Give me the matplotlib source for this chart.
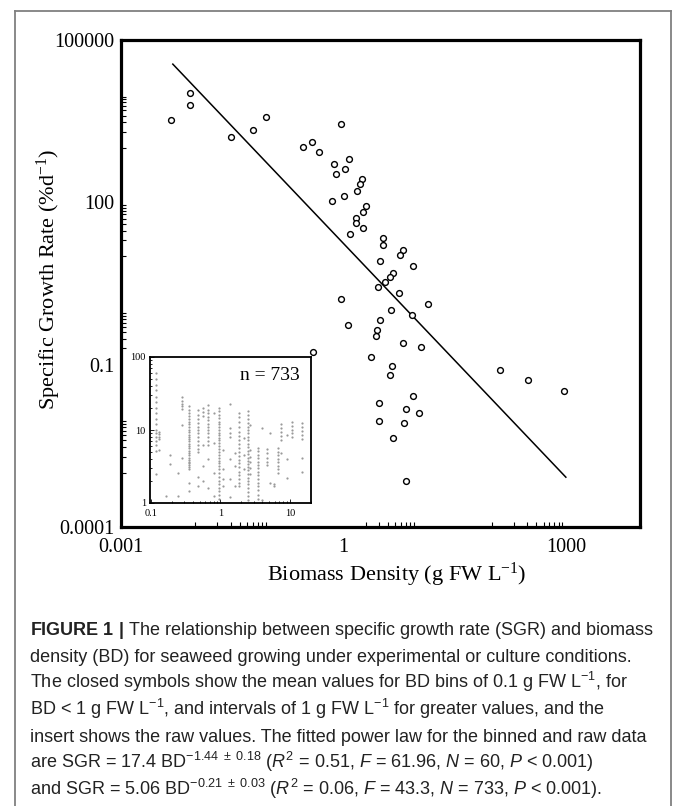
import matplotlib
matplotlib.use("Agg")
import matplotlib.pyplot as plt
import numpy as np

plt.rcParams['font.family'] = ['Liberation Serif', 'DejaVu Serif']
plt.rcParams['mathtext.fontset'] = 'custom'
plt.rcParams['mathtext.rm'] = 'Liberation Sans'
plt.rcParams['mathtext.it'] = 'Liberation Sans:italic'
plt.rcParams['mathtext.bf'] = 'Liberation Sans:bold'

# binned means (open circles)
bd_bin = [0.0047, 0.0086, 0.0086, 0.0309, 0.0604, 0.0895, 0.933, 0.284, 0.376, 0.462,
          0.736, 1.18, 0.80, 1.06, 1.77, 1.65, 1.51, 0.706, 1.01, 2.0,
          1.85, 1.46, 1.46, 1.85, 1.24, 3.47, 3.47, 6.34, 5.84, 3.09,
          8.7, 4.62, 4.27, 3.66, 2.97, 5.64, 0.933, 14.0, 4.4, 1.15,
          3.09, 8.3, 2.85, 2.73, 6.3, 11.0, 0.387, 2.32, 4.58, 4.22,
          3.06, 8.7, 7.06, 10.6, 3.06, 6.5, 4.62, 7.06, 129, 310, 937]
sgr_bin = [3320, 10350, 6300, 1610, 2140, 3820, 2800, 1040, 1300, 840,
           516, 640, 338, 413, 270, 218, 164, 107, 131, 85.5,
           65.3, 51.9, 42, 33.9, 25.6, 22.2, 16.6, 13.4, 10.6, 8.1,
           6.56, 5.0, 4.22, 3.37, 2.72, 2.08, 1.65, 1.34, 1.02, 0.532,
           0.659, 0.815, 0.431, 0.338, 0.248, 0.211, 0.169, 0.136, 0.093, 0.0634,
           0.0198, 0.0263, 0.0151, 0.0129, 0.0092, 0.0083, 0.00435, 0.000714, 0.0785, 0.0513, 0.033]

# fitted power law SGR = a * BD^b
fit_a = 17.4
fit_b = -1.44
fit_range = [0.005, 1000]

# raw values for the insert, column by column
raw_x = [0.12, 0.13, 0.19, 0.167, 0.245, 0.28, 0.35, 0.47, 0.56, 0.66,
         0.8, 0.95, 1.1, 1.37, 1.6, 1.85, 2.2, 2.45, 2.7, 3.5,
         3.9, 4.6, 5.2, 5.8, 6.6, 7.5, 8.9, 10.5, 15]
raw_y = [
    [60, 50, 42, 35, 28, 24, 20, 17, 14, 12, 10, 9, 8, 7, 6.2, 5.2, 2.5],
    [9.5, 8.7, 8.0, 7.6, 5.4],
    [4.6, 3.4],
    [1.25],
    [1.25, 2.6],
    [28, 25, 23, 21, 19.5, 11.8, 4.2],
    [21, 19, 17, 15.5, 14, 13, 12, 11, 10, 9.3, 8.5, 8, 7.5, 7, 6.5, 6, 5.6, 5.2,
     4.8, 4.5, 4.2, 3.9, 3.7, 3.5, 3.3, 3.1, 2.9, 1.9, 1.44],
    [18.5, 16, 14, 12.5, 11, 10, 9, 8, 7, 6.2, 5.5, 5, 2.3, 1.7],
    [20, 17.5, 15.5, 6.3, 3.2, 2.0],
    [22, 19, 17, 15, 13.5, 12, 11, 10, 9, 8, 7, 6.2, 4.0, 1.6],
    [17, 6.7, 2.6, 1.25],
    [20, 18, 16, 14.5, 13, 12, 11, 10, 9.2, 8.5, 7.8, 7.2, 6.6, 6, 5.5, 5, 4.6, 4.2,
     3.8, 3.5, 3.2, 2.9, 2.6, 2.3, 2.0, 1.8, 1.6, 1.45, 1.3, 1.15],
    [5.3, 2.9, 2.1, 1.7],
    [23, 10.5, 9.2, 8, 4, 2.1, 1.2],
    [4.8, 3.2, 1.7],
    [17, 15, 13, 11, 9.5, 8.3, 7.3, 6.4, 5.6, 5, 4.4, 3.9, 3.5, 3.1, 2.7, 2.4, 2.1, 1.9, 1.7],
    [7.8, 4.6, 2.9],
    [18, 16, 14, 12.5, 11, 10, 9, 8, 7.2, 6.5, 5.8, 5.2, 4.7, 4.2, 3.8, 3.4, 3.1, 2.8,
     2.5, 2.2, 2.0, 1.8, 1.6, 1.4, 1.25, 1.1],
    [11.8, 5.3, 4.3, 3.6, 3.0, 2.5],
    [5.7, 5.1, 4.6, 4.1, 3.7, 3.3, 3, 2.7, 2.4, 2.1, 1.9, 1.7, 1.5, 1.3, 1.15],
    [10.5, 1.1],
    [5.5, 4.8, 4.2, 3.7, 3.3],
    [9, 1.9],
    [1.8, 1.7],
    [5.6, 5, 4.5, 4, 3.6, 3.2, 2.9, 2.6],
    [12, 10.5, 9.3, 8.2, 7.2, 4.8],
    [8.5, 4.0, 2.2],
    [13, 11.5, 10, 9, 8],
    [12.5, 11, 9.6, 8.5, 7.6, 4.1, 2.7],
]

caption = [
    r"$\mathbf{FIGURE\ 1\ |}$ The relationship between specific growth rate (SGR) and biomass",
    r"density (BD) for seaweed growing under experimental or culture conditions.",
    r"The closed symbols show the mean values for BD bins of 0.1 g FW L$^{-1}$, for",
    r"BD < 1 g FW L$^{-1}$, and intervals of 1 g FW L$^{-1}$ for greater values, and the",
    r"insert shows the raw values. The fitted power law for the binned and raw data",
    r"are SGR = 17.4 BD$^{-1.44\ \pm\ 0.18}$ ($\mathit{R}^2$ = 0.51, $\mathit{F}$ = 61.96, $\mathit{N}$ = 60, $\mathit{P}$ < 0.001)",
    r"and SGR = 5.06 BD$^{-0.21\ \pm\ 0.03}$ ($\mathit{R}^2$ = 0.06, $\mathit{F}$ = 43.3, $\mathit{N}$ = 733, $\mathit{P}$ < 0.001).",
]

W, H = 673, 806
fig = plt.figure(figsize=(W / 100, H / 100), dpi=100)

# main axes
ax = fig.add_axes([121 / W, 1 - 527 / H, (640 - 121) / W, (527 - 40) / H])
ax.set_xscale('log')
ax.set_yscale('log')
ax.set_xlim(1e-3, 1e4)
ax.set_ylim(1e-4, 1e5)

ax.plot(bd_bin, sgr_bin, 'o', mfc='white', mec='black', ms=4.2, mew=1.0, zorder=3)
xf = np.array(fit_range)
ax.plot(xf, fit_a * xf ** fit_b, color='black', lw=1.1, zorder=2)

for s in ax.spines.values():
    s.set_linewidth(2.3)

ax.set_xticks([1e-3, 1, 1e3])
ax.set_xticklabels(['0.001', '1', '1000'])
ax.set_yticks([1e-4, 1e-1, 1e2, 1e5])
ax.set_yticklabels(['0.0001', '0.1', '100', '100000'])
xminor = [k * 10.0 ** n for n in (-2, 0, 2) for k in range(1, 10)]
yminor = [k * 10.0 ** n for n in (-3, -1, 1, 3) for k in range(1, 10)]
ax.set_xticks(xminor, minor=True)
ax.set_yticks(yminor, minor=True)
ax.xaxis.set_minor_formatter(plt.NullFormatter())
ax.yaxis.set_minor_formatter(plt.NullFormatter())
ax.tick_params(which='both', direction='in', labelsize=14.5, width=0.8)
ax.tick_params(which='major', length=0)
ax.tick_params(which='minor', length=3.5)
ax.tick_params(axis='x', pad=8)
ax.tick_params(axis='y', pad=5)

fig.text(49 / W, 1 - 279 / H, r"Specific Growth Rate (%d$\mathregular{^{-1}}$)",
         rotation=90, ha='center', va='center', fontsize=16)
fig.text(397 / W, 1 - 575 / H, r"Biomass Density (g FW L$\mathregular{^{-1}}$)",
         ha='center', va='center', fontsize=16)

# insert
ins = fig.add_axes([150 / W, 1 - 503 / H, (311 - 150) / W, (503 - 357) / H])
ins.set_xscale('log')
ins.set_yscale('log')
ins.set_xlim(0.097, 20)
ins.set_ylim(1, 100)
for cx, cy in zip(raw_x, raw_y):
    ins.plot([cx] * len(cy), cy, 'o', color='#9a9a9a', ms=1.6, mew=0, zorder=2)
for s in ins.spines.values():
    s.set_linewidth(1.3)
ins.set_xticks([0.1, 1, 10])
ins.set_xticklabels(['0.1', '1', '10'])
ins.set_yticks([1, 10, 100])
ins.set_yticklabels(['1', '10', '100'])
ins.xaxis.set_minor_formatter(plt.NullFormatter())
ins.yaxis.set_minor_formatter(plt.NullFormatter())
ins.tick_params(which='both', direction='in', labelsize=7.5, width=0.6)
ins.tick_params(axis='x', pad=4)
ins.tick_params(axis='y', pad=3)
ins.tick_params(which='major', length=3)
ins.tick_params(which='minor', length=1.5)
ins.text(0.93, 0.87, 'n = 733', transform=ins.transAxes, ha='right', va='center', fontsize=14)

# outer frame
frame = dict(color='#808080', lw=1.3, transform=fig.transFigure, clip_on=False)
fig.add_artist(plt.Line2D([15 / W, 15 / W], [0, 1 - 11 / H], **frame))
fig.add_artist(plt.Line2D([671 / W, 671 / W], [0, 1 - 11 / H], **frame))
fig.add_artist(plt.Line2D([15 / W, 671 / W], [1 - 11 / H, 1 - 11 / H], **frame))

# caption
for i, line in enumerate(caption):
    fig.text(30 / W, 1 - (635 + i * 26.7) / H, line, ha='left', va='baseline',
             fontsize=13, family='Liberation Sans', color='#222222')

fig.savefig('out.png', dpi=100)
